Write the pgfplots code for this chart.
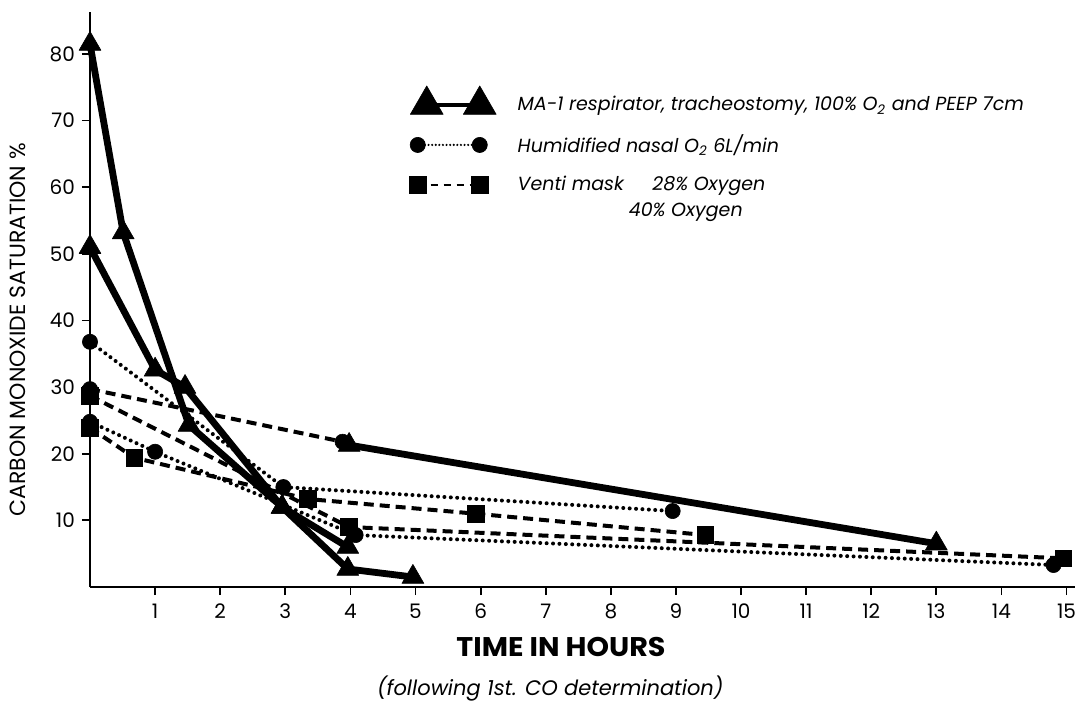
\documentclass[border=0pt]{standalone}
\usepackage{fontspec}
\setmainfont{Poppins}
\usepackage{pgfplots}
\pgfplotsset{compat=1.18}
\pgfplotsset{
 solidtri/.style={black, solid, line width=3.4pt, line join=round, mark=triangle*, mark size=6.3pt, mark options={solid, line width=0.3pt},
   legend image code/.code={
     \path[draw=none, fill=none] (-6pt,-9pt) rectangle (41pt,9pt);
     \draw[##1, line width=1.6pt, mark size=9.5pt] plot coordinates {(4.5pt,0pt) (31pt,0pt)};}},
 dotcirc/.style={black, line width=2pt, line cap=round, dash pattern=on 0pt off 3.2pt, mark=*, mark size=3.8pt, mark options={solid, line width=0.3pt},
   legend image code/.code={
     \path[draw=none, fill=none] (-6pt,-9pt) rectangle (41pt,9pt);
     \draw[##1, line width=1.2pt, dash pattern=on 0pt off 1.8pt] plot coordinates {(0pt,0pt) (31pt,0pt)};}},
 dashsq/.style={black, line width=2pt, dash pattern=on 5pt off 3pt, mark=square*, mark size=4.2pt, mark options={solid, line width=0.3pt},
   legend image code/.code={
     \path[draw=none, fill=none] (-6pt,-9pt) rectangle (41pt,9pt);
     \draw[##1, line width=1.4pt, dash pattern=on 3.5pt off 3pt] plot coordinates {(0pt,0pt) (31pt,0pt)};}},
 dashcirc/.style={black, line width=2pt, dash pattern=on 5pt off 3pt, mark=*, mark size=3.8pt, mark options={solid, line width=0.3pt}},
}
\begin{document}
\begin{tikzpicture}
\useasboundingbox (-45pt,-57.5pt) rectangle (501pt,293.5pt);
\begin{axis}[
  at={(0,0)}, anchor=south west,
  scale only axis, width=492.5pt, height=287.5pt,
  xmin=0, xmax=15.13, ymin=0, ymax=86.3,
  axis lines=left, axis line style={-, line width=1pt},
  xtick={1,...,15}, ytick={10,20,...,80},
  tick align=outside, major tick length=4pt,
  tick style={line width=0.9pt, black},
  ticklabel style={font=\fontsize{10}{12}\selectfont},
  xticklabel style={yshift=-1pt},
  /pgf/number format/assume math mode=true,
  clip=false,
  legend style={at={(axis cs:4.85,75.2)}, anchor=north west, draw=none, fill=none,
    inner sep=0pt, outer sep=0pt, row sep=2pt, column sep=7pt,
    font=\fontsize{9.5}{11}\selectfont\itshape,
    cells={anchor=west, inner sep=0pt}},
]
% MA-1 respirator (solid, triangles)
\addplot[solidtri] coordinates {(0,81.5) (0.51,53.2) (1.52,24.3) (2.95,12) (3.96,2.7) (4.96,1.5)};
\addlegendentry{MA-1 respirator, tracheostomy, 100\% O\textsubscript{2} and PEEP 7cm}
% Humidified nasal (dotted, circles)
\addplot[dotcirc] coordinates {(0,36.8) (2.97,15.0) (8.95,11.4)};
\addlegendentry{Humidified nasal O\textsubscript{2} 6L/min}
% Venti mask (dashed, squares)
\addplot[dashsq] coordinates {(0,28.7) (3.98,9.0) (14.95,4.3)};
\addlegendentry{Venti mask\quad\enspace 28\% Oxygen}
% further patients
\addplot[solidtri, forget plot] coordinates {(0,51) (1.0,32.6) (1.46,30.0) (2.95,12) (3.96,6.0)};
\addplot[dashcirc, forget plot] coordinates {(0,29.7) (3.88,21.8)};
\addplot[solidtri, forget plot] coordinates {(3.98,21.3) (13.0,6.5)};
\addplot[dotcirc, forget plot] coordinates {(0,24.8) (1.0,20.3) (4.08,7.8) (14.8,3.3)};
\addplot[dashsq, forget plot] coordinates {(0,23.9) (0.68,19.4) (3.35,13.2) (5.93,11.0) (9.45,7.8)};
% texts
\node[anchor=west, inner sep=0pt, font=\fontsize{9.5}{11}\selectfont\itshape] at (axis cs:8.27,56.2) {40\% Oxygen};
\node[rotate=90, font=\fontsize{11}{13}\selectfont] at (axis cs:-1.106,38.6) {CARBON MONOXIDE SATURATION \%};
\node[font=\fontsize{13.5}{15}\selectfont\bfseries] at (axis cs:7.235,-9.0) {\scalebox{1.06}[1]{TIME IN HOURS}};
\node[font=\fontsize{10.5}{12}\selectfont\itshape] at (axis cs:7.07,-15.2) {(following 1st. CO determination)};
\end{axis}
\end{tikzpicture}
\end{document}
